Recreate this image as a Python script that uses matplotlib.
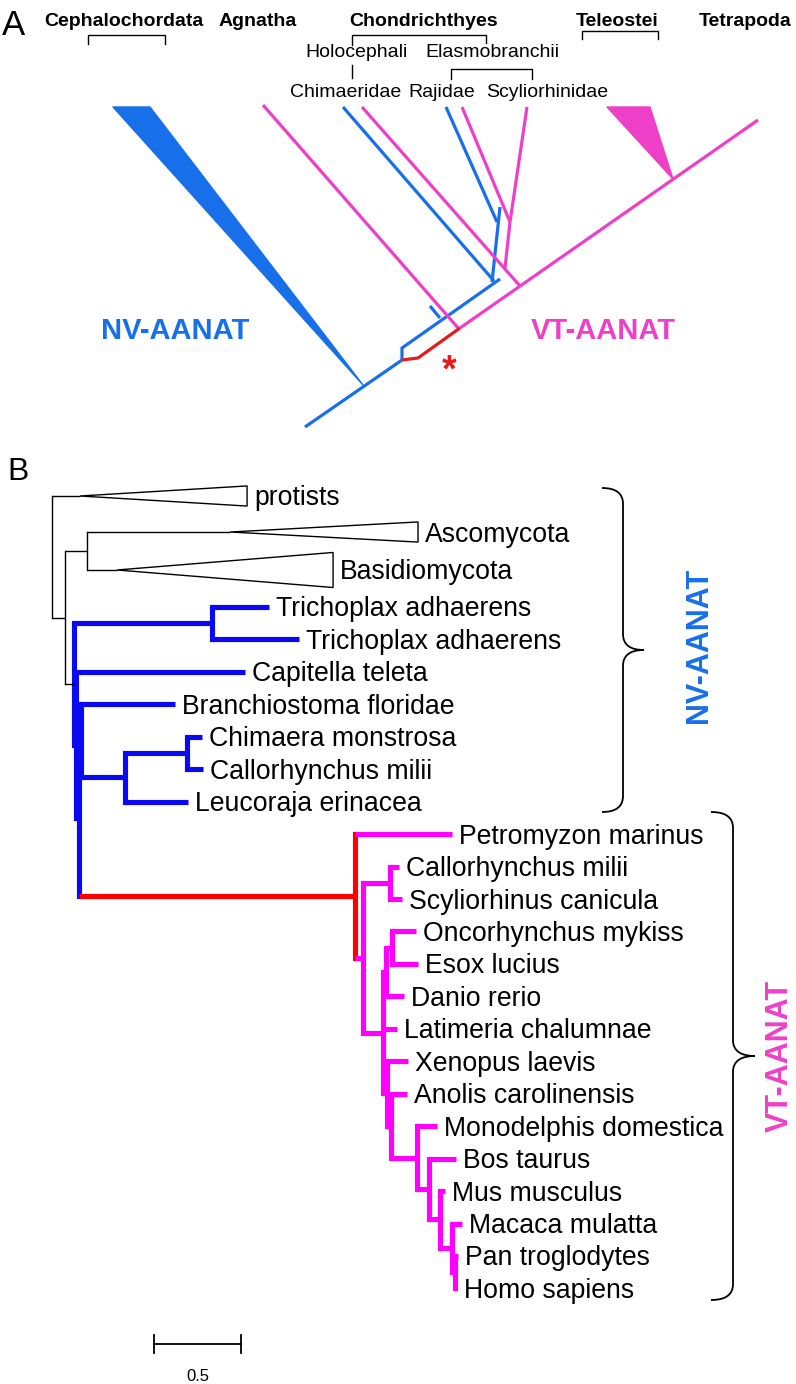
import matplotlib
matplotlib.use('Agg')
import matplotlib.pyplot as plt
from matplotlib.path import Path
from matplotlib.patches import PathPatch, Polygon

plt.rcParams['font.family'] = ['Liberation Sans', 'DejaVu Sans']

# ---------------- Panel B : tree data (depth = distance from root, subst./site) ----------------
node_names = ['root', 'protists', 'n2', 'fungi', 'Ascomycota', 'Basidiomycota',
              'animals', 'tricho', 'Trichoplax adhaerens', 'Trichoplax adhaerens',
              'nX', 'Capitella teleta', 'nY', 'nZ', 'Branchiostoma floridae',
              'chondroNV', 'holoNV', 'Chimaera monstrosa', 'Callorhynchus milii',
              'Leucoraja erinacea', 'VT', 'Petromyzon marinus', 'gnatho', 'chondroVT',
              'Callorhynchus milii', 'Scyliorhinus canicula', 'osteich', 'teleost',
              'salmo', 'Oncorhynchus mykiss', 'Esox lucius', 'Danio rerio',
              'Latimeria chalumnae', 'tetra', 'Xenopus laevis', 'amniota',
              'Anolis carolinensis', 'mammalia', 'Monodelphis domestica', 'eutheria',
              'Bos taurus', 'euarch', 'Mus musculus', 'primates', 'Macaca mulatta',
              'hominid', 'Pan troglodytes', 'Homo sapiens']
node_parent = [-1, 0, 0, 2, 3, 3,
               2, 6, 7, 7,
               6, 10, 10, 12, 13,
               13, 15, 16, 16,
               15, 12, 20, 20, 22,
               23, 23, 22, 26,
               27, 28, 28, 27,
               26, 26, 33, 33,
               35, 35, 37, 37,
               39, 39, 41, 41, 43,
               43, 45, 45]
node_depth = [0.000, 0.160, 0.074, 0.200, 1.018, 0.372,
              0.123, 0.915, 1.241, 1.413,
              0.137, 1.104, 0.152, 0.166, 0.704,
              0.418, 0.772, 0.858, 0.864,
              0.778, 1.733, 2.288, 1.779, 1.934,
              1.985, 2.002, 1.894, 1.911,
              1.945, 2.082, 2.094, 2.014,
              1.974, 1.916, 2.037, 1.939,
              2.031, 2.088, 2.203, 2.157,
              2.311, 2.220, 2.248, 2.288, 2.346,
              2.306, 2.323, 2.317]
node_group = ['out', 'out', 'out', 'out', 'out', 'out',
              'nv', 'nv', 'nv', 'nv',
              'nv', 'nv', 'nv', 'nv', 'nv',
              'nv', 'nv', 'nv', 'nv',
              'nv', 'red'] + ['vt'] * 27

# collapsed clades (triangles)
coll_names = ['protists', 'Ascomycota', 'Basidiomycota']
coll_extent = [1.116, 2.094, 1.608]
coll_spread = [0.31, 0.31, 0.54]
coll_rows = [1.16, 1.06, 1.28]

scale_length = 0.5
scale_text = '0.5'

# ---------------- Panel A : schematic tree ----------------
a_blue_lines = [
    [(305, 427), (402, 360)],
    [(402, 360), (402, 348), (500, 279)],
    [(440, 318), (430, 306)],
    [(494, 281), (343, 107)],
    [(492, 282), (500, 207)],
    [(497, 222), (446, 107)],
]
a_red_lines = [[(402, 360), (418, 358), (460, 328)]]
a_mag_lines = [
    [(460, 328), (758, 120)],
    [(459, 329), (263, 105)],
    [(520, 286), (362, 107)],
    [(505, 268), (510, 222)],
    [(510, 222), (462, 107)],
    [(510, 222), (527, 107)],
]
a_blue_tri = [(113, 107), (150, 107), (363, 385)]
a_mag_tri = [(607, 107), (650, 107), (673, 179)]

a_groups = ['Cephalochordata', 'Agnatha', 'Chondrichthyes', 'Teleostei', 'Tetrapoda']
a_subgroups = ['Holocephali', 'Elasmobranchii']
a_families = ['Chimaeridae', 'Rajidae', 'Scyliorhinidae']

# ---------------- colours ----------------
A_BLUE = '#176FEA'
A_MAG = '#EE3FC8'
A_RED = '#E21C1C'
B_BLUE = '#0A0AF2'
B_MAG = '#FF00FF'
B_RED = '#FF0000'

W, H = 796, 1384
fig = plt.figure(figsize=(W / 100, H / 100), dpi=100)

# overlay axes in pixel coordinates (schematic + annotations)
ax = fig.add_axes([0, 0, 1, 1])
ax.set_xlim(0, W)
ax.set_ylim(H, 0)
ax.axis('off')

# ---- Panel A ----
LWA = 2.3
for pts in a_blue_lines:
    xs, ys = zip(*pts)
    ax.plot(xs, ys, color=A_BLUE, lw=LWA, solid_capstyle='butt', solid_joinstyle='miter')
for pts in a_mag_lines:
    xs, ys = zip(*pts)
    ax.plot(xs, ys, color=A_MAG, lw=LWA, solid_capstyle='butt', solid_joinstyle='miter')
for pts in a_red_lines:
    xs, ys = zip(*pts)
    ax.plot(xs, ys, color=A_RED, lw=LWA, solid_capstyle='butt', solid_joinstyle='miter')
ax.add_patch(Polygon(a_blue_tri, closed=True, facecolor=A_BLUE, edgecolor=A_BLUE, lw=1, joinstyle='round'))
ax.add_patch(Polygon(a_mag_tri, closed=True, facecolor=A_MAG, edgecolor=A_MAG, lw=1, joinstyle='round'))

ax.text(2, 35, 'A', fontsize=25, ha='left', va='baseline')
hdr_x = [124, 258, 424, 617, 745]
for name, x in zip(a_groups, hdr_x):
    ax.text(x, 26, name, fontsize=14, fontweight='bold', ha='center', va='baseline')
for name, x in zip(a_subgroups, [357, 492]):
    ax.text(x, 57, name, fontsize=14, ha='center', va='baseline')
for name, x in zip(a_families, [346, 442, 547]):
    ax.text(x, 97, name, fontsize=14, ha='center', va='baseline')

blk = dict(color='black', lw=1.0, solid_joinstyle='miter')
ax.plot([88, 88, 165, 165], [44, 35, 35, 44], **blk)
ax.plot([352, 352, 486, 486], [45, 35, 35, 43], **blk)
ax.plot([352, 352], [65, 78], **blk)
ax.plot([451, 451, 532, 532], [79, 69, 69, 79], **blk)
ax.plot([582, 582, 658, 658], [39, 31, 31, 39], **blk)

ax.text(175, 339, 'NV-AANAT', fontsize=21, fontweight='bold', color=A_BLUE, ha='center', va='baseline')
ax.text(603, 339, 'VT-AANAT', fontsize=21, fontweight='bold', color=A_MAG, ha='center', va='baseline')
ax.text(449, 381, '*', fontsize=27, fontweight='bold', color=A_RED, ha='center', va='baseline')

# ---- Panel B label, braces ----
ax.text(7, 480, 'B', fontsize=23, ha='left', va='baseline')


def brace(xs, yt, yb, w, r):
    ym = (yt + yb) / 2
    verts = [(xs - w, yt),
             (xs - w / 3, yt), (xs, yt + r / 3), (xs, yt + r),
             (xs, ym - r),
             (xs, ym - r / 3), (xs + w / 3, ym), (xs + w, ym),
             (xs + w / 3, ym), (xs, ym + r / 3), (xs, ym + r),
             (xs, yb - r),
             (xs, yb - r / 3), (xs - w / 3, yb), (xs - w, yb)]
    codes = [Path.MOVETO] + [Path.CURVE4] * 3 + [Path.LINETO] + [Path.CURVE4] * 6 + \
            [Path.LINETO] + [Path.CURVE4] * 3
    ax.add_patch(PathPatch(Path(verts, codes), facecolor='none', edgecolor='black', lw=1.3))


brace(623, 488, 812, 21, 16)
brace(733, 812, 1300, 22, 16)
ax.text(699, 645, 'NV-AANAT', fontsize=22, fontweight='bold', color=A_BLUE,
        rotation=90, ha='center', va='center')
ax.text(780, 1056, 'VT-AANAT', fontsize=22, fontweight='bold', color=A_MAG,
        rotation=90, ha='center', va='center')

# ---- Panel B tree axes: x in substitutions/site, y in rows ----
PX_PER_UNIT = 174.8
X0_PX = 52
ROW_PX = 32.45
Y0_PX = 496
axb = fig.add_axes([0, 0, 1, 1])
axb.patch.set_alpha(0)
axb.set_xlim(-X0_PX / PX_PER_UNIT, (W - X0_PX) / PX_PER_UNIT)
axb.set_ylim((H - Y0_PX) / ROW_PX, -Y0_PX / ROW_PX)
axb.axis('off')

n = len(node_names)
children = {i: [] for i in range(n)}
for i, p in enumerate(node_parent):
    if p >= 0:
        children[p].append(i)

ypos = {}
state = {'y': None, 'h': None}


def layout(i):
    if not children[i]:
        nm = node_names[i]
        h = coll_rows[coll_names.index(nm)] if (nm in coll_names and node_group[i] == 'out') else 1.0
        y = 0.0 if state['y'] is None else state['y'] + (state['h'] + h) / 2
        state['y'], state['h'] = y, h
        ypos[i] = y
    else:
        for c in children[i]:
            layout(c)
        ypos[i] = (ypos[children[i][0]] + ypos[children[i][-1]]) / 2


layout(0)

gcol = {'out': 'black', 'nv': B_BLUE, 'red': B_RED, 'vt': B_MAG}
THICK, THIN = 3.7, 1.0

# verticals first
for i in range(n):
    if children[i]:
        g = node_group[i]
        lw = THIN if g == 'out' else THICK
        axb.plot([node_depth[i], node_depth[i]],
                 [ypos[children[i][0]], ypos[children[i][-1]]],
                 color=gcol[g], lw=lw, solid_capstyle='projecting')
# horizontals
for i in range(1, n):
    p = node_parent[i]
    g = node_group[i]
    if g == 'out' or node_group[p] == 'out':
        col, lw = 'black', THIN
    else:
        col, lw = gcol[g], THICK
    axb.plot([node_depth[p], node_depth[i]], [ypos[i], ypos[i]],
             color=col, lw=lw, solid_capstyle='butt')
    nm = node_names[i]
    if not children[i]:
        if nm in coll_names and g == 'out':
            k = coll_names.index(nm)
            tri = [(node_depth[i], ypos[i]),
                   (coll_extent[k], ypos[i] - coll_spread[k]),
                   (coll_extent[k], ypos[i] + coll_spread[k])]
            axb.add_patch(Polygon(tri, closed=True, facecolor='white', edgecolor='black', lw=1.0))
            xlab = coll_extent[k]
        else:
            xlab = node_depth[i]
        axb.annotate(nm, (xlab, ypos[i]), xytext=(7, -9.5), textcoords='offset pixels',
                     fontsize=19.2, ha='left', va='baseline')

# scale bar
sb_x = (154 - X0_PX) / PX_PER_UNIT
sb_y = (1344 - Y0_PX) / ROW_PX
axb.plot([sb_x, sb_x + scale_length], [sb_y, sb_y], color='black', lw=1.3)
for xx in (sb_x, sb_x + scale_length):
    axb.plot([xx, xx], [sb_y - 0.27, sb_y + 0.27], color='black', lw=1.3)
axb.text(sb_x + scale_length / 2, sb_y + 1.0, scale_text, fontsize=12, ha='center', va='center')

fig.savefig('out.png', dpi=100)
